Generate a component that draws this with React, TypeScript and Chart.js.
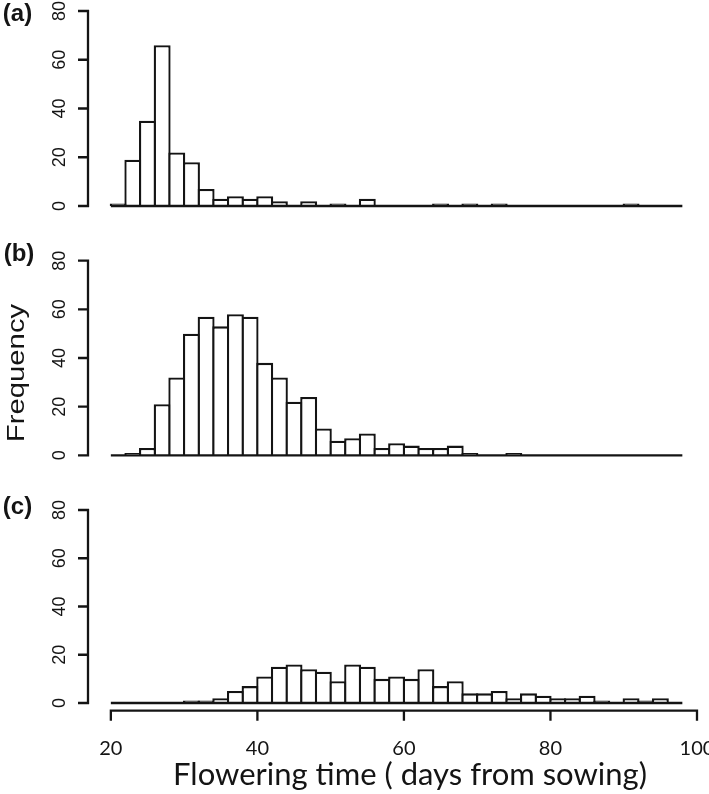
import { useEffect, useRef } from 'react';
import { Chart, registerables } from 'chart.js';

Chart.register(...registerables);

// ---------- data ----------
const binStart = 20;
const binWidth = 2;
// counts per 2-day bin, bins 20-22, 22-24, ..., 96-98
const countsA = [1, 19, 35, 66, 22, 18, 7, 3, 4, 3, 4, 2, 0, 2, 0, 1, 0, 3, 0, 0, 0, 0, 1, 0, 1, 0, 1, 0, 0, 0, 0, 0, 0, 0, 0, 1, 0, 0, 0];
const countsB = [0, 1, 3, 21, 32, 50, 57, 53, 58, 57, 38, 32, 22, 24, 11, 6, 7, 9, 3, 5, 4, 3, 3, 4, 1, 0, 0, 1, 0, 0, 0, 0, 0, 0, 0, 0, 0, 0, 0];
const countsC = [0, 0, 0, 0, 0, 1, 1, 2, 5, 7, 11, 15, 16, 14, 13, 9, 16, 15, 10, 11, 10, 14, 7, 9, 4, 4, 5, 2, 4, 3, 2, 2, 3, 1, 0, 2, 1, 2, 0];
const yTicks = [0, 20, 40, 60, 80];
const xTicks = [20, 40, 60, 80, 100];
const panelLabels = ['(a)', '(b)', '(c)'];
const xTitle = 'Flowering time ( days from sowing)';
const yTitle = 'Frequency';

// ---------- layout / style ----------
const W = 709;
const H = 794;
const INK = '#141414';
const X_MIN = 16.88;
const X_MAX = 101.12;
const Y_MIN = -3.2;
const Y_MAX = 83.2;
const PLOT_LEFT = 88;
const PLOT_RIGHT = 705.2;
const TICK = 10;
const LINE_W = 2.3;

const frames = [
  { top: 3.2, bottom: 213.8, labelX: 17.5, labelY: 20.5, showX: false, showYTitle: false },
  { top: 252.9, bottom: 463.1, labelX: 19, labelY: 261, showX: false, showYTitle: true },
  { top: 502.3, bottom: 710.7, labelX: 17.5, labelY: 514, showX: true, showYTitle: false },
];
const allCounts = [countsA, countsB, countsC];

const rAxes = {
  id: 'rAxes',
  afterDraw(chart: any, _args: any, opts: any) {
    const { ctx, chartArea } = chart;
    const xs = chart.scales.x;
    const ys = chart.scales.y;
    ctx.save();
    ctx.strokeStyle = INK;
    ctx.fillStyle = INK;
    ctx.lineWidth = LINE_W;
    ctx.lineCap = 'butt';

    // y axis (R style: spans first..last tick only)
    const ax = chartArea.left;
    const yv = ys.ticks.map((t: any) => t.value);
    const yLo = ys.getPixelForValue(yv[0]);
    const yHi = ys.getPixelForValue(yv[yv.length - 1]);
    ctx.beginPath();
    ctx.moveTo(ax, yLo + 1.1);
    ctx.lineTo(ax, yHi - 1.1);
    yv.forEach((v: number) => {
      const p = ys.getPixelForValue(v);
      ctx.moveTo(ax + 1.1, p);
      ctx.lineTo(ax - TICK, p);
    });
    ctx.stroke();

    ctx.font = '18px "Liberation Sans", Arial, sans-serif';
    ctx.textAlign = 'center';
    ctx.textBaseline = 'alphabetic';
    yv.forEach((v: number) => {
      const p = ys.getPixelForValue(v);
      ctx.save();
      ctx.translate(ax - 23, p);
      ctx.rotate(-Math.PI / 2);
      ctx.fillText(String(v), 0, 0);
      ctx.restore();
    });

    // panel label
    ctx.font = 'bold 24px "Liberation Sans", Arial, sans-serif';
    ctx.textAlign = 'center';
    ctx.fillText(opts.label, opts.labelX, opts.labelY);

    if (opts.showYTitle) {
      ctx.save();
      ctx.font = '24px "Liberation Sans", Arial, sans-serif';
      ctx.translate(24, 373);
      ctx.rotate(-Math.PI / 2);
      ctx.scale(1.22, 1);
      ctx.textAlign = 'center';
      ctx.fillText(yTitle, 0, 0);
      ctx.restore();
    }

    if (opts.showX) {
      const ay = chartArea.bottom;
      const xv = xs.ticks.map((t: any) => t.value);
      const x0 = xs.getPixelForValue(xv[0]);
      const x1 = xs.getPixelForValue(xv[xv.length - 1]);
      ctx.beginPath();
      ctx.moveTo(x0 - 1.1, ay);
      ctx.lineTo(x1 + 1.1, ay);
      xv.forEach((v: number) => {
        const p = xs.getPixelForValue(v);
        ctx.moveTo(p, ay - 1.1);
        ctx.lineTo(p, ay + TICK);
      });
      ctx.stroke();

      ctx.font = '20px Lato, "Open Sans", sans-serif';
      ctx.textAlign = 'center';
      xv.forEach((v: number) => {
        ctx.fillText(String(v), xs.getPixelForValue(v), ay + 44);
      });

      // title, sized to span the measured width
      ctx.font = '100px Lato, "Open Sans", sans-serif';
      const w100 = ctx.measureText(xTitle).width;
      const size = Math.round((470 / w100) * 100);
      ctx.font = `${size}px Lato, "Open Sans", sans-serif`;
      ctx.fillText(xTitle, 410, 785);
    }
    ctx.restore();
  },
};

function makeConfig(i: number): any {
  const f = frames[i];
  const counts = allCounts[i];
  const bars = counts.map((c, k) => ({ x: binStart + binWidth * (k + 0.5), y: c }));
  const baseline = [
    { x: binStart, y: 0 },
    { x: binStart + binWidth * counts.length, y: 0 },
  ];
  return {
    type: 'bar',
    data: {
      datasets: [
        {
          type: 'line',
          data: baseline,
          borderColor: INK,
          borderWidth: LINE_W,
          pointRadius: 0,
          clip: false,
        },
        {
          type: 'bar',
          data: bars,
          backgroundColor: '#ffffff',
          borderColor: INK,
          borderWidth: LINE_W,
          barPercentage: 1 + LINE_W / 14.65,
          categoryPercentage: 1,
          clip: false,
        },
      ],
    },
    options: {
      animation: false,
      responsive: false,
      devicePixelRatio: 1,
      events: [],
      layout: {
        padding: { left: PLOT_LEFT, right: W - PLOT_RIGHT, top: f.top, bottom: H - f.bottom },
      },
      scales: {
        x: {
          type: 'linear',
          min: X_MIN,
          max: X_MAX,
          offset: false,
          display: false,
          afterBuildTicks: (s: any) => {
            s.ticks = xTicks.map((v) => ({ value: v }));
          },
        },
        y: {
          type: 'linear',
          min: Y_MIN,
          max: Y_MAX,
          display: false,
          afterBuildTicks: (s: any) => {
            s.ticks = yTicks.map((v) => ({ value: v }));
          },
        },
      },
      plugins: {
        legend: { display: false },
        tooltip: { enabled: false },
        title: { display: false },
        rAxes: {
          label: panelLabels[i],
          labelX: f.labelX,
          labelY: f.labelY,
          showX: f.showX,
          showYTitle: f.showYTitle,
        },
      },
    },
    plugins: [rAxes],
  };
}

export default function App() {
  const r0 = useRef<HTMLCanvasElement>(null);
  const r1 = useRef<HTMLCanvasElement>(null);
  const r2 = useRef<HTMLCanvasElement>(null);

  useEffect(() => {
    const refs = [r0, r1, r2];
    const charts = refs.map((r, i) => new Chart(r.current as HTMLCanvasElement, makeConfig(i)));
    return () => charts.forEach((c) => c.destroy());
  }, []);

  const cs: any = { position: 'absolute', left: 0, top: 0 };
  return (
    <div style={{ position: 'absolute', left: 0, top: 0, width: W, height: H, background: '#ffffff' }}>
      <canvas ref={r0} width={W} height={H} style={cs} />
      <canvas ref={r1} width={W} height={H} style={cs} />
      <canvas ref={r2} width={W} height={H} style={cs} />
    </div>
  );
}
